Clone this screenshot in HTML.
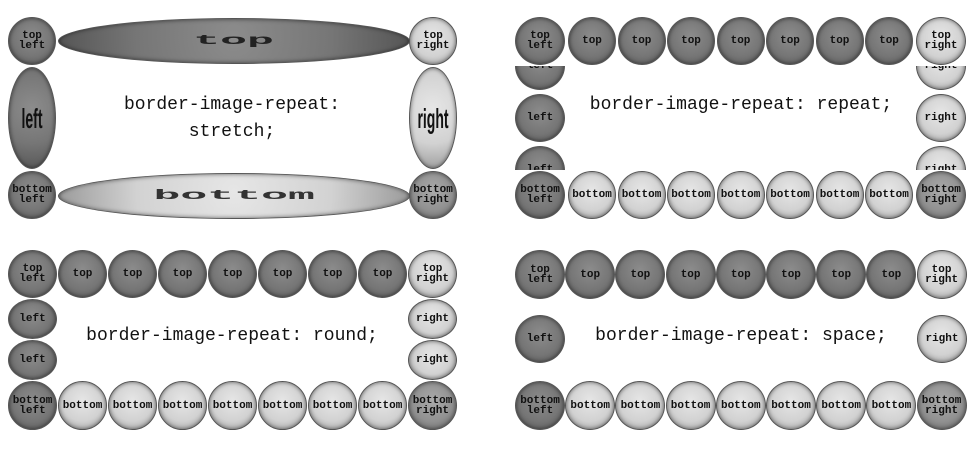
<!DOCTYPE html>
<html><head><meta charset="utf-8"><style>
html,body{margin:0;padding:0;background:#fff;width:979px;height:451px;overflow:hidden;position:relative}
.b{position:absolute;box-sizing:border-box;border-radius:50%;border:1px solid #555;display:flex;align-items:center;justify-content:center;text-align:center;font-family:"Liberation Mono",monospace;font-weight:bold;font-size:11px;line-height:10px;color:#111;box-shadow:inset 0 0 4px rgba(0,0,0,.55)}
.d{background:radial-gradient(circle at 50% 40%,#8c8c8c 0%,#767676 55%,#555 100%)}
.l{background:radial-gradient(circle at 50% 40%,#e6e6e6 0%,#d2d2d2 55%,#9a9a9a 100%)}
.m{background:radial-gradient(circle at 50% 40%,#aaa 0%,#919191 55%,#666 100%)}
.t{position:absolute;font-family:"Liberation Mono",monospace;font-size:18px;color:#111;text-align:center;white-space:nowrap}
.clip{position:absolute;overflow:hidden}
</style></head><body>
<div id="root"></div>
<script>
const root=document.getElementById('root');
function circ(parent,x,y,w,h,cls,label){
  const e=document.createElement('div');
  e.className='b '+cls;
  e.style.left=x+'px';e.style.top=y+'px';e.style.width=w+'px';e.style.height=h+'px';
  e.innerHTML=label;
  parent.appendChild(e);
  return e;
}
function txt(x,y,w,s){
  const e=document.createElement('div');e.className='t';
  e.style.left=x+'px';e.style.top=y+'px';e.style.width=w+'px';e.innerHTML=s;
  root.appendChild(e);return e;
}
let e;
// ===== stretch panel =====
e=circ(root,8,17,48,48,'d','top<br>left');


e=circ(root,409,17,48,48,'l','top<br>right');


e=circ(root,8,171,48,48,'d','bottom<br>left');


e=circ(root,409,171,48,48,'m','bottom<br>right');


e=circ(root,58,18,352,46,'d','<span style="display:inline-block;transform:scaleX(3.2);font-size:14px;color:#222">top</span>');


e=circ(root,58,173,352,46,'l','<span style="display:inline-block;transform:scaleX(3.2);font-size:14px;color:#333">bottom</span>');


e=circ(root,8,67,48,102,'d','<span style="display:inline-block;transform:scaleY(2);font-size:14px;font-family:Liberation Sans;font-weight:bold;color:#111">left</span>');


e=circ(root,409,67,48,102,'l','<span style="display:inline-block;transform:scaleY(2);font-size:14px;font-family:Liberation Sans;font-weight:bold;color:#111">right</span>');


e=txt(82,92,300,'border-image-repeat:<br>stretch;');
e.style.lineHeight='27px';



// ===== repeat panel =====
e=circ(root,515,17,50,48,'d','top<br>left');


e=circ(root,916,17,50,48,'l','top<br>right');


e=circ(root,515,171,50,48,'d','bottom<br>left');


e=circ(root,916,171,50,48,'m','bottom<br>right');


for(let i=0;i<7;i++){
  e=circ(root,568+i*49.5,17,48,48,'d','top');
  
  
  e=circ(root,568+i*49.5,171,48,48,'l','bottom');
  
  
}
const lc=document.createElement('div');lc.className='clip';
lc.style.cssText='left:515px;top:66px;width:52px;height:104px';


root.appendChild(lc);
const rc=document.createElement('div');rc.className='clip';
rc.style.cssText='left:916px;top:66px;width:52px;height:104px';


root.appendChild(rc);
for(let k=-1;k<=1;k++){
  e=circ(lc,0,28+k*52,50,48,'d','left');
  
  
  e=circ(rc,0,28+k*52,50,48,'l','right');
  
  
}
e=txt(580,95,322,'border-image-repeat: repeat;');



// ===== round panel =====
for(let i=0;i<9;i++){
  const cls=i==8?'l':'d';
  const lab=i==0?'top<br>left':(i==8?'top<br>right':'top');
  e=circ(root,8+i*50,250,49,48,cls,lab);
  
  
  const cls2=i==0?'d':(i==8?'m':'l');
  const lab2=i==0?'bottom<br>left':(i==8?'bottom<br>right':'bottom');
  e=circ(root,8+i*50,381,49,49,cls2,lab2);
  
  
}
for(let k=0;k<2;k++){
  e=circ(root,8,299+k*41,49,40,'d','left');
  
  
  e=circ(root,408,299+k*41,49,40,'l','right');
  
  
}
e=txt(77,326,310,'border-image-repeat: round;');



// ===== space panel =====
for(let i=0;i<9;i++){
  const cls=i==8?'l':'d';
  const lab=i==0?'top<br>left':(i==8?'top<br>right':'top');
  e=circ(root,515+i*50.2,250,50,49,cls,lab);
  
  
  const cls2=i==0?'d':(i==8?'m':'l');
  const lab2=i==0?'bottom<br>left':(i==8?'bottom<br>right':'bottom');
  e=circ(root,515+i*50.2,381,50,49,cls2,lab2);
  
  
}
e=circ(root,515,315,50,48,'d','left');


e=circ(root,917,315,50,48,'l','right');


e=txt(585,326,312,'border-image-repeat: space;');


</script>
</body></html>
